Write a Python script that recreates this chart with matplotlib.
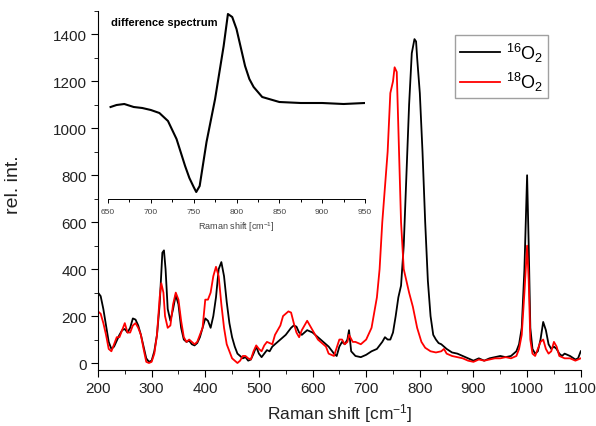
import matplotlib
matplotlib.use("Agg")
import matplotlib.pyplot as plt
from matplotlib.ticker import MultipleLocator

plt.rcParams["font.family"] = ["Liberation Sans", "DejaVu Sans"]
plt.rcParams["mathtext.fontset"] = "custom"
plt.rcParams["mathtext.rm"] = "Liberation Sans"
plt.rcParams["mathtext.it"] = "Liberation Sans:italic"

# -------------------------------------------------------
# Data
# -------------------------------------------------------

shift_16 = [200, 205, 210, 215, 220, 225, 230, 235, 240, 245, 250, 255, 260, 265, 270,
            275, 280, 285, 290, 295, 300, 305, 310, 315, 320, 323, 326, 330, 335, 340,
            345, 350, 355, 360, 365, 370, 375, 380, 385, 390, 395, 400, 405, 410, 415,
            420, 425, 430, 435, 440, 445, 450, 455, 460, 465, 470, 475, 480, 485, 490,
            495, 500, 505, 510, 515, 520, 525, 530, 540, 550, 560, 565, 570, 575, 580,
            590, 600, 610, 620, 630, 640, 645, 650, 655, 660, 665, 668, 672, 680, 690,
            700, 710, 720, 730, 735, 740, 745, 750, 755, 760, 765, 770, 775, 780, 785,
            790, 793, 795, 800, 805, 810, 815, 820, 825, 830, 835, 840, 850, 860, 870,
            880, 890, 900, 910, 920, 930, 940, 950, 960, 970, 980, 985, 990, 995, 1000,
            1003, 1006, 1010, 1015, 1020, 1025, 1030, 1035, 1040, 1045, 1050, 1055, 1060,
            1065, 1070, 1080, 1090, 1095, 1100]
int_16 = [300, 285, 230, 160, 90, 60, 70, 95, 120, 140, 145, 130, 150, 190, 185,
          160, 120, 70, 20, 5, 10, 50, 120, 250, 470, 480, 400, 230, 180, 230,
          290, 250, 150, 100, 90, 95, 80, 75, 85, 110, 150, 190, 180, 150, 200,
          280, 400, 430, 370, 260, 170, 110, 70, 40, 30, 20, 25, 10, 15, 40,
          70, 40, 25, 40, 55, 50, 70, 80, 100, 120, 150, 160, 155, 130, 120,
          140, 130, 110, 90, 70, 40, 30, 70, 90, 80, 100, 140, 50, 30, 25,
          35, 50, 60, 90, 110, 100, 100, 130, 200, 280, 330, 500, 800, 1100, 1320,
          1380, 1370, 1300, 1150, 900, 600, 350, 200, 120, 100, 85, 80, 60, 45, 40,
          30, 20, 10, 20, 10, 20, 25, 30, 25, 30, 50, 80, 150, 400, 800,
          500, 150, 60, 40, 50, 100, 175, 140, 80, 60, 70, 60, 40,
          30, 40, 30, 15, 20, 50]

shift_18 = [200, 205, 210, 215, 220, 225, 230, 235, 240, 245, 250, 255, 260, 265, 270,
            275, 280, 285, 290, 295, 300, 305, 310, 315, 318, 322, 325, 330, 335, 340,
            345, 350, 355, 360, 365, 370, 375, 380, 385, 390, 395, 400, 405, 410, 415,
            420, 425, 430, 435, 440, 445, 450, 455, 460, 465, 470, 475, 480, 485, 490,
            495, 500, 505, 510, 515, 520, 525, 530, 540, 545, 550, 555, 560, 565, 570,
            575, 580, 590, 600, 610, 620, 625, 630, 640, 650, 655, 660, 665, 668, 675,
            680, 690, 700, 710, 720, 725, 730, 735, 740, 745, 750, 753, 757, 760, 765,
            770, 775, 780, 787, 795, 803, 810, 820, 830, 840, 845, 850, 860, 870, 880,
            890, 900, 910, 920, 930, 940, 950, 960, 970, 980, 985, 990, 995, 1000, 1003,
            1006, 1010, 1015, 1020, 1025, 1030, 1035, 1040, 1045, 1050, 1055, 1060, 1070,
            1080, 1090, 1100]
int_18 = [220, 210, 170, 120, 60, 50, 80, 110, 110, 140, 170, 130, 130, 160, 170,
          150, 120, 60, 5, 0, 5, 40, 120, 280, 340, 300, 200, 150, 160, 250,
          300, 270, 180, 110, 90, 100, 90, 80, 90, 120, 150, 270, 270, 300, 370,
          410, 370, 250, 150, 80, 50, 20, 10, 0, 10, 30, 30, 20, 15, 50,
          75, 60, 50, 75, 90, 85, 80, 120, 160, 200, 210, 220, 215, 170, 130,
          110, 140, 180, 140, 100, 80, 70, 40, 30, 100, 100, 80, 90, 120, 90,
          90, 80, 100, 150, 280, 400, 600, 750, 900, 1150, 1200, 1260, 1240, 1000, 600,
          400, 350, 300, 240, 150, 90, 65, 50, 45, 50, 60, 40, 30, 25, 20,
          10, 5, 15, 10, 15, 20, 20, 25, 20, 30, 60, 120, 300, 500, 350,
          100, 40, 30, 60, 90, 100, 60, 40, 50, 90, 70, 30, 20,
          20, 10, 20]

# difference spectrum (inset, arbitrary units)
shift_diff = [653, 660, 669, 680, 690, 700, 710, 720, 730, 740, 745, 750, 753, 757,
              765, 775, 785, 790, 795, 800, 810, 815, 820, 830, 850, 875, 900, 925, 950]
int_diff = [-4, -2, -1, -4, -5, -7, -10, -18, -36, -63, -75, -84, -89, -83,
            -39, 4, 57, 89, 86, 74, 37, 24, 16, 6, 1, 0, 0, -1, 0]

# -------------------------------------------------------
# Main plot
# -------------------------------------------------------

fig = plt.figure(figsize=(5.96, 4.27), dpi=100)
ax = fig.add_axes([0.1644, 0.131, 0.810, 0.841])

ax.plot(shift_16, int_16, color="black", lw=1.3, label=r"$^{16}\mathrm{O}_2$")
ax.plot(shift_18, int_18, color="red", lw=1.3, label=r"$^{18}\mathrm{O}_2$")

ax.set_xlim(200, 1100)
ax.set_ylim(-30, 1500)
ax.xaxis.set_major_locator(MultipleLocator(100))
ax.xaxis.set_minor_locator(MultipleLocator(50))
ax.yaxis.set_major_locator(MultipleLocator(200))
ax.yaxis.set_minor_locator(MultipleLocator(100))
ax.set_yticks(range(0, 1401, 200))
ax.spines["top"].set_visible(False)
ax.spines["right"].set_visible(False)
ax.tick_params(which="major", direction="out", length=5, pad=3, labelsize=11,
               labelcolor="#222222")
ax.tick_params(which="minor", direction="out", length=3)

ax.set_xlabel(r"Raman shift [cm$^{-1}$]", fontsize=12.5, color="#222222")
ax.set_ylabel("rel. int.", fontsize=14, color="#222222")
ax.yaxis.set_label_coords(-0.157, 0.52)

leg = ax.legend(loc="upper left", bbox_to_anchor=(455 / 596, 1 - 36 / 427),
                bbox_transform=fig.transFigure, borderaxespad=0, fontsize=13,
                frameon=True, fancybox=False, edgecolor="#888888",
                handlelength=2.2, borderpad=0.3, labelspacing=0.35,
                handletextpad=0.3)
leg.get_frame().set_linewidth(1.0)

# -------------------------------------------------------
# Inset: difference spectrum
# -------------------------------------------------------

ins = fig.add_axes([108 / 596, 1 - 200 / 427, 257 / 596, 188 / 427])
ins.plot(shift_diff, int_diff, color="black", lw=1.5)
ins.set_xlim(650, 950)
ins.set_ylim(-96, 92)
ins.patch.set_alpha(0)
for s in ["top", "right", "left"]:
    ins.spines[s].set_visible(False)
ins.set_yticks([])
ins.xaxis.set_major_locator(MultipleLocator(50))
ins.xaxis.set_minor_locator(MultipleLocator(25))
ins.tick_params(which="major", direction="out", length=3, labelsize=6,
                labelcolor="#444444", width=0.7)
ins.tick_params(which="minor", direction="out", length=2, width=0.7)
ins.spines["bottom"].set_linewidth(0.7)
ins.set_xlabel(r"Raman shift [cm$^{-1}$]", fontsize=6.5, color="#444444",
               labelpad=3)
ins.text(0.01, 0.94, "difference spectrum", transform=ins.transAxes,
         fontsize=8, fontweight="bold", ha="left", va="center")

fig.savefig("out.png", dpi=100)
